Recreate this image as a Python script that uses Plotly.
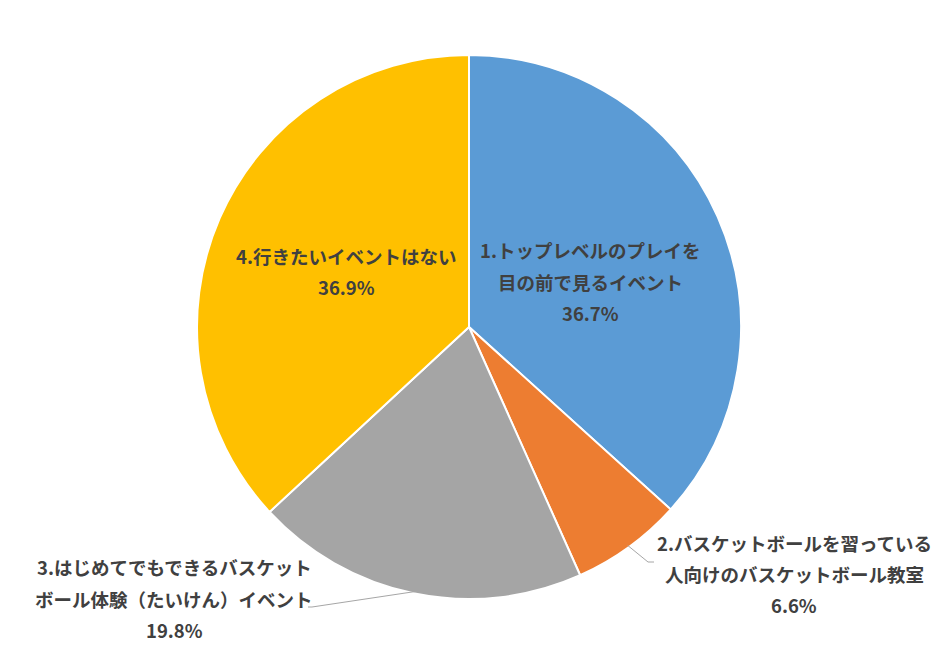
import math
import plotly.graph_objects as go

# ---- data ----
labels = [
    "1.トップレベルのプレイを目の前で見るイベント",
    "2.バスケットボールを習っている人向けのバスケットボール教室",
    "3.はじめてでもできるバスケットボール体験（たいけん）イベント",
    "4.行きたいイベントはない",
]
label_lines = [
    ["1.トップレベルのプレイを", "目の前で見るイベント"],
    ["2.バスケットボールを習っている", "人向けのバスケットボール教室"],
    ["3.はじめてでもできるバスケット", "ボール体験（たいけん）イベント"],
    ["4.行きたいイベントはない"],
]
values = [36.7, 6.6, 19.8, 36.9]
colors = ["#5B9BD5", "#ED7D31", "#A5A5A5", "#FFC000"]

# ---- layout geometry ----
W, H = 938, 653
cx, cy, r = 469, 327, 270
rd = r + 2  # small allowance for plotly's inset
dom_x = [(cx - rd) / W, (cx + rd) / W]
dom_y = [1 - (cy + rd) / H, 1 - (cy - rd) / H]

def px(x):
    return x / W

def py(y):
    return 1 - y / H

fig = go.Figure(go.Pie(
    labels=labels,
    values=values,
    sort=False,
    direction="clockwise",
    rotation=0,
    marker=dict(colors=colors, line=dict(color="white", width=2)),
    textinfo="none",
    showlegend=False,
    domain=dict(x=dom_x, y=dom_y),
))

font = dict(family="Noto Sans CJK JP", size=18.5, color="#404040")
# label placements: (center x, first line y, line spacing)
placements = [(590, 250, 31.5), (794, 543, 31), (174, 567, 31.5), (346, 256, 30.5)]

annotations = []
total = sum(values)
for i, (lines, v) in enumerate(zip(label_lines, values)):
    x0, y0, dy = placements[i]
    all_lines = lines + [f"{v:.1f}%"]
    for j, t in enumerate(all_lines):
        annotations.append(dict(
            x=px(x0), y=py(y0 + j * dy), xref="paper", yref="paper",
            text=f"<b>{t}</b>", showarrow=False, font=font,
            xanchor="center", yanchor="middle",
        ))

# leader lines for outside labels
shapes = []
cum = 0
mids = []
for v in values:
    mids.append((cum + v / 2) / total * 2 * math.pi)
    cum += v

def edge(a):
    return cx + r * math.sin(a), cy - r * math.cos(a)

# slice 2
ex, ey = edge(mids[1])
shapes.append(dict(type="path", xref="paper", yref="paper",
                   path=f"M {px(ex)} {py(ey)} L {px(648)} {py(562)} L {px(654)} {py(562)}",
                   line=dict(color="#A6A6A6", width=1)))
# slice 3
ex, ey = edge(mids[2])
shapes.append(dict(type="path", xref="paper", yref="paper",
                   path=f"M {px(ex)} {py(ey)} L {px(312)} {py(607)} L {px(308)} {py(607)}",
                   line=dict(color="#A6A6A6", width=1)))

fig.update_layout(
    width=W, height=H,
    margin=dict(l=0, r=0, t=0, b=0),
    paper_bgcolor="white",
    plot_bgcolor="white",
    annotations=annotations,
    shapes=shapes,
)

fig.write_html("out.html")
